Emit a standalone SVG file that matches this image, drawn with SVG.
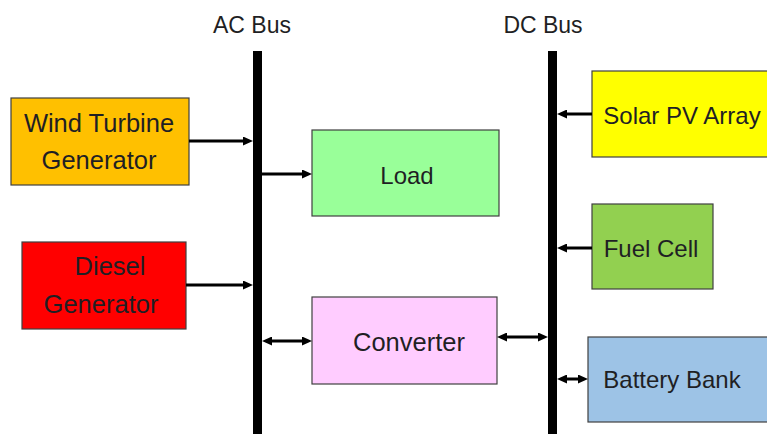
<svg xmlns="http://www.w3.org/2000/svg" width="767" height="434" viewBox="0 0 767 434">
<style>
.box{stroke:#404040;stroke-width:1.2}
.lbl{font-family:"Liberation Sans",Arial,sans-serif;font-size:24px;fill:#1f1f24;text-anchor:middle}
.big{font-size:25.5px}
.bus{font-family:"Liberation Sans",Arial,sans-serif;font-size:23px;fill:#1f1f24;text-anchor:middle}
.con{stroke:#000;stroke-width:3;fill:none}
</style>
<defs>
<marker id="ah" markerUnits="userSpaceOnUse" markerWidth="10" markerHeight="9" refX="4" refY="4.5" orient="auto-start-reverse">
<path d="M0,0 L10,4.5 L0,9 z" fill="#000"/>
</marker>
</defs>
<rect width="767" height="434" fill="#fff"/>
<g id="ac-bus">
<rect x="253" y="51" width="9" height="383" fill="#000"/>
<text class="bus" x="252" y="33">AC Bus</text>
</g>
<g id="dc-bus">
<rect x="548" y="51" width="9" height="383" fill="#000"/>
<text class="bus" x="543" y="33">DC Bus</text>
</g>
<g id="wind">
<rect class="box" x="11" y="98" width="178" height="87" fill="#FFC000"/>
<text class="lbl big" x="99" y="132">Wind Turbine</text>
<text class="lbl big" x="99" y="169">Generator</text>
</g>
<g id="diesel">
<rect class="box" x="22" y="242" width="164" height="87" fill="#FF0000"/>
<text class="lbl big" x="110" y="275">Diesel</text>
<text class="lbl big" x="101" y="313">Generator</text>
</g>
<g id="load">
<rect class="box" x="312" y="130" width="187" height="86" fill="#99FF99"/>
<text class="lbl" x="407" y="184">Load</text>
</g>
<g id="converter">
<rect class="box" x="312" y="297" width="185" height="87" fill="#FFCCFF"/>
<text class="lbl big" x="409" y="351">Converter</text>
</g>
<g id="solar">
<rect class="box" x="592" y="71" width="180" height="86" fill="#FFFF00"/>
<text class="lbl" x="682" y="124">Solar PV Array</text>
</g>
<g id="fuel">
<rect class="box" x="592" y="204" width="121" height="85" fill="#92D050"/>
<text class="lbl" x="651" y="257">Fuel Cell</text>
</g>
<g id="battery">
<rect class="box" x="588" y="337" width="184" height="85" fill="#9DC3E6"/>
<text class="lbl" x="672" y="388">Battery Bank</text>
</g>
<g id="connectors">
<line class="con" x1="189" y1="141" x2="247" y2="141" marker-end="url(#ah)"/>
<line class="con" x1="262" y1="174" x2="306" y2="174" marker-end="url(#ah)"/>
<line class="con" x1="186" y1="285" x2="247" y2="285" marker-end="url(#ah)"/>
<line class="con" x1="268" y1="341" x2="306" y2="341" marker-start="url(#ah)" marker-end="url(#ah)"/>
<line class="con" x1="503" y1="337" x2="542" y2="337" marker-start="url(#ah)" marker-end="url(#ah)"/>
<line class="con" x1="592" y1="114" x2="563" y2="114" marker-end="url(#ah)"/>
<line class="con" x1="592" y1="248" x2="563" y2="248" marker-end="url(#ah)"/>
<line class="con" x1="563" y1="379" x2="582" y2="379" marker-start="url(#ah)" marker-end="url(#ah)"/>
</g>
</svg>
